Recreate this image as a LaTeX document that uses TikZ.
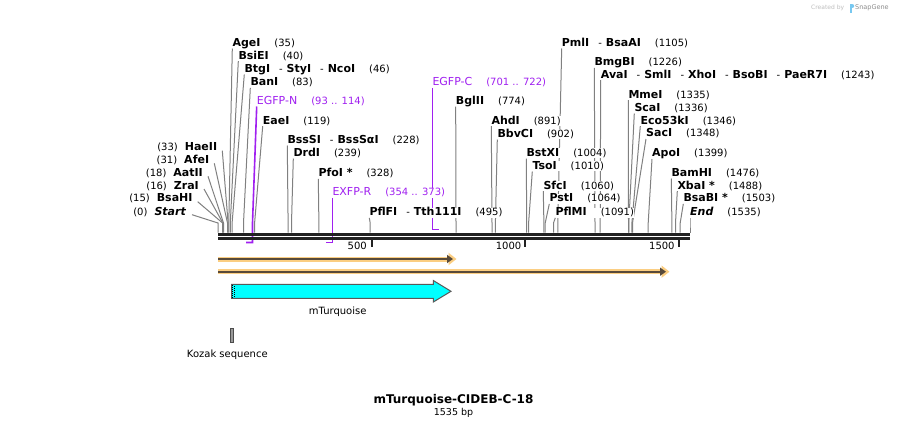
\documentclass[tikz,border=0pt]{standalone}
\usepackage{fontspec}
\setmainfont{DejaVu Sans}
\usetikzlibrary{arrows.meta}
\pgfdeclarelayer{background}
\pgfsetlayers{background,main}

\definecolor{seqcol}{RGB}{34,34,34}
\definecolor{leadercol}{RGB}{128,128,128}
\definecolor{primercol}{RGB}{160,32,240}
\definecolor{bandorange}{RGB}{251,206,130}
\definecolor{banddark}{RGB}{88,74,58}
\definecolor{cdscyan}{RGB}{0,255,255}
\definecolor{logoblue}{RGB}{120,200,240}

\newcommand{\enzname}[1]{{\fontsize{11}{13}\selectfont\bfseries #1}}
\newcommand{\primername}[1]{{\fontsize{11}{13}\selectfont #1}}
\newcommand{\enzsep}{\hspace{9pt}-\hspace{4pt}}
\newcommand{\enzgap}{\hspace{14pt}}
\newcommand{\enzleft}{\hspace{7pt}}

\begin{document}
\begin{tikzpicture}[x=1pt, y=-1pt]
\tikzstyle{EnzStyle}=[anchor=west, inner sep=0pt, text height=8pt, text depth=2pt,
fill=white, font=\fontsize{10}{12}\selectfont]
\tikzstyle{EnzLeftStyle}=[EnzStyle, anchor=east]
\tikzstyle{PrimerStyle}=[EnzStyle, text=primercol]
\tikzstyle{LeaderStyle}=[draw=leadercol, line width=1pt]
\tikzstyle{PrimerLine}=[draw=primercol, line width=1.6pt]
\tikzstyle{TickLabel}=[anchor=east, inner sep=0pt, font=\fontsize{10}{12}\selectfont]
\begin{pgfonlayer}{background}
\fill[white] (0,0) rectangle (908,429);
\end{pgfonlayer}
\useasboundingbox (0,0) rectangle (908,429);
% enzyme labels, left column
\node[EnzLeftStyle] (HaeII) at (217.3,147.7) {(33)\enzleft\enzname{HaeII}};
\node[EnzLeftStyle] (AfeI) at (209.3,160.3) {(31)\enzleft\enzname{AfeI}};
\node[EnzLeftStyle] (AatII) at (203,173.3) {(18)\enzleft\enzname{AatII}};
\node[EnzLeftStyle] (ZraI) at (199,186) {(16)\enzleft\enzname{ZraI}};
\node[EnzLeftStyle] (BsaHI) at (192.7,198.7) {(15)\enzleft\enzname{BsaHI}};
\node[EnzLeftStyle] (Start) at (186,212.7) {(0)\enzleft\enzname{\itshape Start}};
% enzyme labels and primers above the line
\node[EnzStyle] (AgeI) at (232.3,43.3) {\enzname{AgeI}\enzgap(35)};
\node[EnzStyle] (BsiEI) at (238.3,56) {\enzname{BsiEI}\enzgap(40)};
\node[EnzStyle] (BtgI) at (244.3,69.3) {\enzname{BtgI}\enzsep\enzname{StyI}\enzsep\enzname{NcoI}\enzgap(46)};
\node[EnzStyle] (BanI) at (250.3,82.7) {\enzname{BanI}\enzgap(83)};
\node[PrimerStyle] (EGFPN) at (256.7,101.3) {\primername{EGFP-N}\enzgap(93 .. 114)};
\node[EnzStyle] (EaeI) at (262.7,121) {\enzname{EaeI}\enzgap(119)};
\node[EnzStyle] (BssSI) at (287.3,140.3) {\enzname{BssSI}\enzsep\enzname{BssSαI}\enzgap(228)};
\node[EnzStyle] (DrdI) at (293.3,153.3) {\enzname{DrdI}\enzgap(239)};
\node[EnzStyle] (PfoI) at (318.3,173.7) {\enzname{PfoI *}\enzgap(328)};
\node[PrimerStyle] (EXFPR) at (332.3,192.7) {\primername{EXFP-R}\enzgap(354 .. 373)};
\node[EnzStyle] (PflFI) at (369.3,212.7) {\enzname{PflFI}\enzsep\enzname{Tth111I}\enzgap(495)};
\node[PrimerStyle] (EGFPC) at (432.3,82.7) {\primername{EGFP-C}\enzgap(701 .. 722)};
\node[EnzStyle] (BglII) at (455.7,101.3) {\enzname{BglII}\enzgap(774)};
\node[EnzStyle] (AhdI) at (491.3,121) {\enzname{AhdI}\enzgap(891)};
\node[EnzStyle] (BbvCI) at (497.3,134.3) {\enzname{BbvCI}\enzgap(902)};
\node[EnzStyle] (BstXI) at (526.3,153.3) {\enzname{BstXI}\enzgap(1004)};
\node[EnzStyle] (TsoI) at (532.3,166.3) {\enzname{TsoI}\enzgap(1010)};
\node[EnzStyle] (SfcI) at (543.3,186) {\enzname{SfcI}\enzgap(1060)};
\node[EnzStyle] (PstI) at (549.3,198.7) {\enzname{PstI}\enzgap(1064)};
\node[EnzStyle] (PflMI) at (555.3,212.7) {\enzname{PflMI}\enzgap(1091)};
\node[EnzStyle] (PmlI) at (561.7,43.3) {\enzname{PmlI}\enzsep\enzname{BsaAI}\enzgap(1105)};
\node[EnzStyle] (BmgBI) at (594.3,62.7) {\enzname{BmgBI}\enzgap(1226)};
\node[EnzStyle] (AvaI) at (600.7,75) {\enzname{AvaI}\enzsep\enzname{SmlI}\enzsep\enzname{XhoI}\enzsep\enzname{BsoBI}\enzsep\enzname{PaeR7I}\enzgap(1243)};
\node[EnzStyle] (MmeI) at (628.3,95) {\enzname{MmeI}\enzgap(1335)};
\node[EnzStyle] (ScaI) at (634.3,108.3) {\enzname{ScaI}\enzgap(1336)};
\node[EnzStyle] (Eco53kI) at (640.3,121) {\enzname{Eco53kI}\enzgap(1346)};
\node[EnzStyle] (SacI) at (646,133.7) {\enzname{SacI}\enzgap(1348)};
\node[EnzStyle] (ApoI) at (652,153.7) {\enzname{ApoI}\enzgap(1399)};
\node[EnzStyle] (BamHI) at (671.3,173.3) {\enzname{BamHI}\enzgap(1476)};
\node[EnzStyle] (XbaI) at (677.3,186) {\enzname{XbaI *}\enzgap(1488)};
\node[EnzStyle] (BsaBI) at (683.3,198.7) {\enzname{BsaBI *}\enzgap(1503)};
\node[EnzStyle] (End) at (690,212.7) {\enzname{\itshape End}\enzgap(1535)};
% cut sites on the sequence
\coordinate (knee) at (0,223);
\coordinate (s0) at (218.0,232.5);
\coordinate (s15) at (222.6,232.5);
\coordinate (s16) at (222.9,232.5);
\coordinate (s18) at (223.5,232.5);
\coordinate (s31) at (227.5,232.5);
\coordinate (s33) at (228.1,232.5);
\coordinate (s35) at (228.8,232.5);
\coordinate (s40) at (230.3,232.5);
\coordinate (s46) at (232.1,232.5);
\coordinate (s83) at (243.5,232.5);
\coordinate (s119) at (254.6,232.5);
\coordinate (s228) at (288.1,232.5);
\coordinate (s239) at (291.5,232.5);
\coordinate (s328) at (318.9,232.5);
\coordinate (s495) at (370.2,232.5);
\coordinate (s774) at (456.0,232.5);
\coordinate (s891) at (492.0,232.5);
\coordinate (s902) at (495.4,232.5);
\coordinate (s1004) at (526.7,232.5);
\coordinate (s1010) at (528.6,232.5);
\coordinate (s1060) at (543.9,232.5);
\coordinate (s1064) at (545.2,232.5);
\coordinate (s1091) at (553.5,232.5);
\coordinate (s1105) at (557.8,232.5);
\coordinate (s1226) at (595.0,232.5);
\coordinate (s1243) at (600.2,232.5);
\coordinate (s1335) at (628.5,232.5);
\coordinate (s1336) at (628.8,232.5);
\coordinate (s1346) at (631.9,232.5);
\coordinate (s1348) at (632.5,232.5);
\coordinate (s1399) at (648.2,232.5);
\coordinate (s1476) at (671.9,232.5);
\coordinate (s1488) at (675.5,232.5);
\coordinate (s1503) at (680.2,232.5);
\coordinate (s1535) at (690.0,232.5);
% primer ends
\coordinate (p93) at (246,242.5);
\coordinate (p114) at (252.5,242.5);
\coordinate (p354) at (326.3,242.5);
\coordinate (p373) at (332.3,242.5);
\coordinate (p701) at (432.3,229.5);
\coordinate (p722) at (438.7,229.5);
% leaders, behind the labels
\begin{pgfonlayer}{background}
\draw[LeaderStyle] ([xshift=5pt,yshift=-3pt]HaeII.east) -- (s33 |- knee) -- (s33);
\draw[LeaderStyle] ([xshift=5pt,yshift=-3pt]AfeI.east) -- (s31 |- knee) -- (s31);
\draw[LeaderStyle] ([xshift=5pt,yshift=-3pt]AatII.east) -- (s18 |- knee) -- (s18);
\draw[LeaderStyle] ([xshift=5pt,yshift=-3pt]ZraI.east) -- (s16 |- knee) -- (s16);
\draw[LeaderStyle] ([xshift=5pt,yshift=-3pt]BsaHI.east) -- (s15 |- knee) -- (s15);
\draw[LeaderStyle] ([xshift=6pt,yshift=-2pt]Start.east) -- (s0 |- knee) -- (s0);
\draw[LeaderStyle] (AgeI.south west) -- (s35 |- knee) -- (s35);
\draw[LeaderStyle] (BsiEI.south west) -- (s40 |- knee) -- (s40);
\draw[LeaderStyle] (BtgI.south west) -- (s46 |- knee) -- (s46);
\draw[LeaderStyle] (BanI.south west) -- (s83 |- knee) -- (s83);
\draw[LeaderStyle] (EaeI.south west) -- (s119 |- knee) -- (s119);
\draw[LeaderStyle] (BssSI.south west) -- (s228 |- knee) -- (s228);
\draw[LeaderStyle] (DrdI.south west) -- (s239 |- knee) -- (s239);
\draw[LeaderStyle] (PfoI.south west) -- (s328 |- knee) -- (s328);
\draw[LeaderStyle] (PflFI.south west) -- (s495 |- knee) -- (s495);
\draw[LeaderStyle] (BglII.south west) -- (s774 |- knee) -- (s774);
\draw[LeaderStyle] (AhdI.south west) -- (s891 |- knee) -- (s891);
\draw[LeaderStyle] (BbvCI.south west) -- (s902 |- knee) -- (s902);
\draw[LeaderStyle] (BstXI.south west) -- (s1004 |- knee) -- (s1004);
\draw[LeaderStyle] (TsoI.south west) -- (s1010 |- knee) -- (s1010);
\draw[LeaderStyle] (SfcI.south west) -- (s1060 |- knee) -- (s1060);
\draw[LeaderStyle] (PstI.south west) -- (s1064 |- knee) -- (s1064);
\draw[LeaderStyle] (PflMI.south west) -- (s1091 |- knee) -- (s1091);
\draw[LeaderStyle] (PmlI.south west) -- (s1105 |- knee) -- (s1105);
\draw[LeaderStyle] (BmgBI.south west) -- (s1226 |- knee) -- (s1226);
\draw[LeaderStyle] (AvaI.south west) -- (s1243 |- knee) -- (s1243);
\draw[LeaderStyle] (MmeI.south west) -- (s1335 |- knee) -- (s1335);
\draw[LeaderStyle] (ScaI.south west) -- (s1336 |- knee) -- (s1336);
\draw[LeaderStyle] (Eco53kI.south west) -- (s1346 |- knee) -- (s1346);
\draw[LeaderStyle] (SacI.south west) -- (s1348 |- knee) -- (s1348);
\draw[LeaderStyle] (ApoI.south west) -- (s1399 |- knee) -- (s1399);
\draw[LeaderStyle] (BamHI.south west) -- (s1476 |- knee) -- (s1476);
\draw[LeaderStyle] (XbaI.south west) -- (s1488 |- knee) -- (s1488);
\draw[LeaderStyle] (BsaBI.south west) -- (s1503 |- knee) -- (s1503);
\draw[LeaderStyle] (End.south west) -- (s1535 |- knee) -- (s1535);
% primers
\draw[PrimerLine] (EGFPN.south west) -- (p114 |- knee) -- (p114) -- (p93);
\draw[PrimerLine] (EXFPR.south west) -- (p373) -- (p354);
\draw[PrimerLine] (EGFPC.south west) -- (p701) -- (p722);
\end{pgfonlayer}
% sequence, two strands
\draw[seqcol, line width=3pt] (218,234) -- (690,234);
\draw[seqcol, line width=2.6pt] (218,238.7) -- (690,238.7);
\draw[seqcol, line width=2pt] (371.5,239) -- (371.5,247);
\draw[seqcol, line width=2pt] (525.3,239) -- (525.3,247);
\draw[seqcol, line width=2pt] (678.6,239) -- (678.6,247);
\node[TickLabel] (l500) at (367,246) {500};
\node[TickLabel] (l1000) at (521.5,246) {1000};
\node[TickLabel] (l1500) at (674.8,246) {1500};
% features
\draw[bandorange, line width=5pt, -{Triangle[length=8pt,width=12pt]}] (218,259) -- (456.5,259);
\draw[banddark, line width=2pt, -{Triangle[length=6pt,width=8pt]}] (218,259) -- (453,259);
\draw[bandorange, line width=5pt, -{Triangle[length=8pt,width=12pt]}] (218,271.7) -- (669.5,271.7);
\draw[banddark, line width=2pt, -{Triangle[length=6pt,width=8pt]}] (218,271.7) -- (666,271.7);
\draw[fill=cdscyan, draw=black!65, line width=1pt] (231.7,284.3) -- (433.3,284.3) -- (433.3,280.5)
  -- (451,291.3) -- (433.3,302) -- (433.3,298.3) -- (231.7,298.3) -- cycle;
\draw[black, line width=1pt, dash pattern=on 1pt off 1pt] (232.7,285) -- (232.7,298);
\draw[black, line width=1pt, dash pattern=on 1pt off 1pt, dash phase=1pt] (234.7,285) -- (234.7,298);
\node[inner sep=0pt, font=\fontsize{10}{12}\selectfont] (mTurq) at (337.7,311.7) {mTurquoise};
\draw[fill=black!40, draw=black!70, line width=0.8pt] (230.5,328.5) rectangle (233.5,342.2);
\node[inner sep=0pt, font=\fontsize{10}{12}\selectfont] (Kozak) at (227.3,355) {Kozak sequence};
% title
\node[inner sep=0pt, font=\fontsize{12}{14}\selectfont\bfseries] (title) at (453.5,400) {mTurquoise-CIDEB-C-18};
\node[inner sep=0pt, font=\fontsize{9.5}{11}\selectfont] (length) at (453.5,413) {1535 bp};
% credit
\node[anchor=west, inner sep=0pt, text=black!25, font=\fontsize{6}{7}\selectfont] (credit) at (811,8) {Created by};
\fill[logoblue] (849.5,3.5) rectangle (851.5,12.5);
\fill[logoblue] (851.5,3.5) .. controls (855,3.5) and (855,8) .. (851.5,8) -- cycle;
\node[anchor=west, inner sep=0pt, text=black!45, font=\fontsize{6.5}{7}\selectfont] (snap) at (855,8) {SnapGene};
\end{tikzpicture}
\end{document}
